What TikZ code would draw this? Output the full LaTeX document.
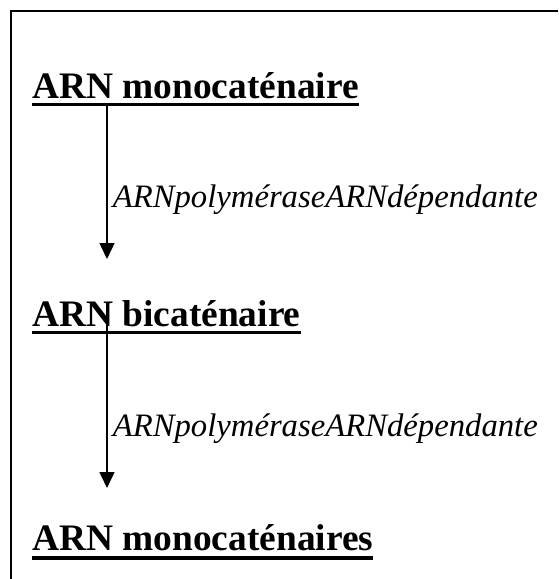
\documentclass[tikz,border=0pt]{standalone}
\usepackage{fontspec}
\setmainfont{Liberation Serif}
\usetikzlibrary{arrows.meta}
\tikzset{
  title/.style={anchor=base west, inner sep=0pt, font=\fontsize{37.4}{44}\selectfont\bfseries},
  enzyme/.style={anchor=base east, inner sep=0pt, font=\fontsize{32.7}{38}\selectfont\itshape},
  uline/.style={line width=3.5pt},
  arr/.style={line width=1.5pt, -{Triangle[width=15pt,length=16pt]}},
  frame/.style={line width=2pt}
}
\begin{document}
\begin{tikzpicture}[x=1pt,y=-1pt]
\useasboundingbox (0,0) rectangle (558,579);
\draw[frame] (11,579) -- (11,10.5) -- (558,10.5);
\node[title] (l1) at (32,98) {ARN monocaténaire};
\node[title] (l2) at (32,326) {ARN bicaténaire};
\node[title] (l3) at (32,550) {ARN monocaténaires};
\draw[uline] ([yshift=-6.5pt]l1.base west) -- ([yshift=-6.5pt]l1.base east);
\draw[uline] ([yshift=-6.5pt]l2.base west) -- ([yshift=-6.5pt]l2.base east);
\draw[uline] ([yshift=-8pt]l3.base west) -- ([yshift=-8pt]l3.base east);
\coordinate (a1s) at (107,105);
\coordinate (a1e) at (107,259);
\coordinate (a2s) at (107,303);
\coordinate (a2e) at (107,488);
\draw[arr] (a1s) -- (a1e);
\draw[arr] (a2s) -- (a2e);
\node[enzyme] (e1) at (538,207) {ARNpolyméraseARNdépendante};
\node[enzyme] (e2) at (538,436) {ARNpolyméraseARNdépendante};
\end{tikzpicture}
\end{document}
